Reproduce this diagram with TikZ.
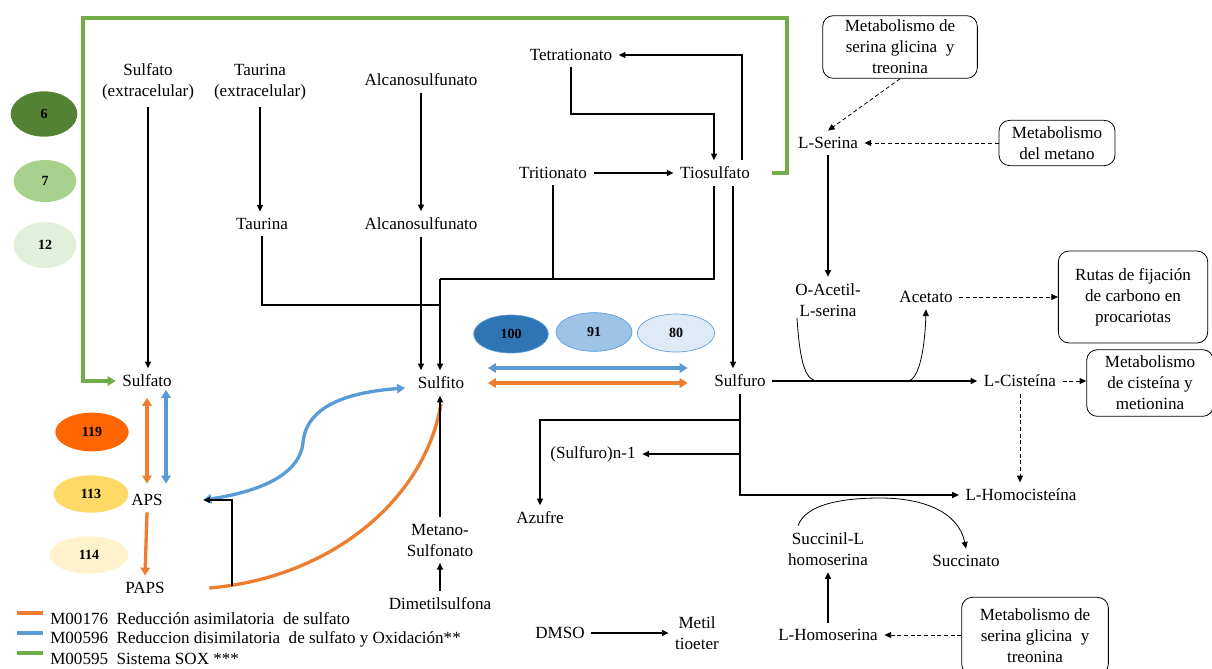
\documentclass[tikz,border=0pt]{standalone}
\usepackage{fontspec}
\setmainfont{Liberation Serif}
\usetikzlibrary{arrows.meta,shapes.geometric,calc}

\definecolor{soxgreen}{HTML}{70AD47}
\definecolor{dsblue}{HTML}{5B9BD5}
\definecolor{asorange}{HTML}{ED7D31}
\definecolor{gA}{HTML}{548235}
\definecolor{gB}{HTML}{A9D18E}
\definecolor{gC}{HTML}{E2EFDA}
\definecolor{oA}{HTML}{FF6600}
\definecolor{oB}{HTML}{FFD966}
\definecolor{oC}{HTML}{FFF2CC}
\definecolor{bA}{HTML}{2E75B6}
\definecolor{bB}{HTML}{9DC3E6}
\definecolor{bC}{HTML}{DEEBF7}

\tikzset{
  txt/.style={align=center, inner sep=2pt, outer sep=3pt},
  conn/.style={line width=1pt, -{Triangle[length=5pt,width=4.5pt]}},
  link/.style={line width=1pt},
  thinconn/.style={line width=0.6pt, -{Triangle[length=5pt,width=4.5pt]}},
  dconn/.style={line width=0.6pt, dash pattern=on 3pt off 2pt, -{Triangle[length=5pt,width=4.5pt]}},
  rbox/.style={draw, rounded corners=8pt, align=center, line width=0.6pt, inner ysep=1pt},
  blob/.style={ellipse, inner sep=0pt, font=\fontsize{10.5}{12}\selectfont\bfseries},
  twoway/.style={line width=2.5pt, {Triangle[length=6pt,width=7pt]}-{Triangle[length=6pt,width=7pt]}},
  oneway/.style={line width=2.5pt, -{Triangle[length=6pt,width=7pt]}},
  sox/.style={soxgreen, line width=3pt, -{Triangle[length=6pt,width=7pt]}},
}

\begin{document}
\begin{tikzpicture}[x=0.75pt,y=0.75pt,yscale=-1,xscale=1,font=\fontsize{12.8}{15.75}\selectfont]
\useasboundingbox (0,0) rectangle (1212,668);

% compounds
\node[txt] (sulfext) at (148,82) {Sulfato\\(extracelular)};
\node[txt] (taurext) at (260,82) {Taurina\\(extracelular)};
\node[txt] (alc1) at (421,80) {Alcanosulfunato};
\node[txt] (taur) at (262,224) {Taurina};
\node[txt] (alc2) at (421,224) {Alcanosulfunato};
\node[txt] (tetr) at (571,55) {Tetrationato};
\node[txt] (trit) at (553,173) {Tritionato};
\node[txt] (tios) at (715,173) {Tiosulfato};
\node[txt] (sulfato) at (147,381) {Sulfato};
\node[txt] (sulfito) at (441,383) {Sulfito};
\node[txt] (sulfuro) at (740,381) {Sulfuro};
\node[txt] (aps) at (147,500) {APS};
\node[txt] (paps) at (145,588) {PAPS};
\node[txt] (metsulf) at (440,540) {Metano-\\Sulfonato};
\node[txt] (dimet) at (440,604) {Dimetilsulfona};
\node[txt] (dmso) at (560,633) {DMSO};
\node[txt] (metil) at (697,633) {Metil\\tioeter};
\node[txt] (sn1) at (593,454) {(Sulfuro)n-1};
\node[txt] (azufre) at (540,518) {Azufre};
\node[txt] (lser) at (828,143) {L-Serina};
\node[txt] (oac) at (828,300) {O-Acetil-\\L-serina};
\node[txt] (acet) at (926,297) {Acetato};
\node[txt] (cist) at (1020,381) {L-Cisteína};
\node[txt] (lhc) at (1021,495) {L-Homocisteína};
\node[txt] (succ) at (828,549) {Succinil-L\\homoserina};
\node[txt] (succto) at (966,561) {Succinato};
\node[txt] (lhs) at (828,635) {L-Homoserina};

% pathway boxes
\node[rbox, minimum width=116pt, minimum height=47pt] (mbox1) at (900,47) {Metabolismo de\\serina glicina~ y\\treonina};
\node[rbox, minimum width=87pt, minimum height=34pt] (mbox2) at (1057,143) {Metabolismo\\del metano};
\node[rbox, minimum width=112pt, minimum height=69pt] (rutas) at (1133,297) {Rutas de fijación\\de carbono en\\procariotas};
\node[rbox, minimum width=95pt, minimum height=50pt] (mbox3) at (1150,383) {Metabolismo\\de cisteína y\\metionina};
\node[rbox, minimum width=110pt, minimum height=58pt] (mbox4) at (1035,636) {Metabolismo de\\serina glicina~ y\\treonina};

% gene counts
\node[blob, fill=gA, minimum width=50pt, minimum height=34pt] (e6) at (44,114) {6};
\node[blob, fill=gB, minimum width=47pt, minimum height=31.5pt] (e7) at (45,181) {7};
\node[blob, fill=gC, minimum width=47pt, minimum height=34.5pt] (e12) at (45,245) {12};
\node[blob, fill=oA, minimum width=55pt, minimum height=29pt] (e119) at (92,432) {119};
\node[blob, fill=oB, minimum width=56pt, minimum height=28pt] (e113) at (91,494) {113};
\node[blob, fill=oC, minimum width=59pt, minimum height=28pt] (e114) at (89,555) {114};
\node[blob, fill=bA, draw=dsblue, line width=0.5pt, minimum width=56pt, minimum height=28.5pt] (e100) at (511,334) {100};
\node[blob, fill=bB, draw=dsblue, line width=0.5pt, minimum width=57pt, minimum height=29pt] (e91) at (594,332) {91};
\node[blob, fill=bC, draw=dsblue, line width=0.5pt, minimum width=58pt, minimum height=28.5pt] (e80) at (676,333) {80};

% junctions
\coordinate (jsf) at (440,279);
\coordinate (jt) at (440,305);
\coordinate (jtt) at (714,114);
\coordinate (jso) at (787,18);
\coordinate (jsi) at (83,381);
\coordinate (jz) at (740,420);
\coordinate (jn) at (740,454);
\coordinate (jp) at (232,586);
\coordinate (ts1) at ($(tios.south)+(-1,0)$);
\coordinate (ts2) at ($(tios.south)+(18,0)$);
\coordinate (tn) at ($(tios.north)+(27,0)$);
\coordinate (te) at ($(tios.east)+(16,0)$);
\coordinate (apsin) at ($(aps.east)+(34,0)$);
\coordinate (papsout) at ($(paps.east)+(38,0)$);
\coordinate (sl) at ($(sulfito.east)+(17,0)$);
\coordinate (sr) at ($(sulfuro.west)+(-20,0)$);

% black reactions
\draw[conn] (sulfext.south) -- (sulfext.south |- sulfato.north);
\draw[conn] (taurext.south) -- (taurext.south |- taur.north);
\draw[conn] (alc1) -- (alc2);
\draw[link] (taur.south) |- (jt);
\draw[conn] (alc2.south) -- (alc2.south |- sulfito.north);
\draw[link] (ts1) |- (jsf);
\draw[link] (trit.south) -- (trit.south |- jsf);
\draw[conn] (jsf) -- (jsf |- sulfito.north);
\draw[conn] (trit) -- (tios);
\draw[conn] (tn) |- (tetr.east);
\draw[conn] (tetr.south) |- (jtt) -- (jtt |- tios.north);
\draw[conn] (ts2) -- (ts2 |- sulfuro.north);
\draw[conn] (sulfuro) -- (cist);
\draw[conn] (sulfuro.south) |- (lhc.west);
\draw[conn] (jz) -| (azufre.north);
\draw[conn] (jn) -- (sn1.east);
\draw[conn] (lser) -- (oac);
\draw[conn] (lhs) -- (succ);
\draw[conn] (dmso) -- (metil);
\draw[conn] (dimet) -- (metsulf);

% side products
\draw[line width=0.6pt] ($(oac.south)+(-31,-5)$) .. controls (800,365) and (806,381) .. (818,381);
\draw[thinconn] (908,381) .. controls (920,379) and (925,345) .. (acet.south);
\draw[thinconn] ($(succ.north)+(-30,0)$) .. controls (805,505) and (840,498) .. (880,498) .. controls (920,498) and (958,510) .. (succto.north);

% links to other pathways
\draw[dconn] (mbox1.south) -- (lser.north);
\draw[dconn] (mbox2) -- (lser);
\draw[dconn] (acet) -- (rutas);
\draw[dconn] (cist.east) -- (cist.east -| mbox3.west);
\draw[dconn] (cist.south) -- (cist.south |- lhc.north);
\draw[dconn] (mbox4.west |- lhs) -- (lhs.east);

% modules
\draw[twoway, asorange, shorten <=3pt, shorten >=3pt] (sulfato.south) -- (aps.north);
\draw[twoway, dsblue, shorten >=3pt] ($(sulfato.south)+(19,-4)$) -- ($(aps.north)+(19,0)$);
\draw[oneway, asorange] (aps.south) -- (paps.north);
\draw[twoway, dsblue] (apsin) .. controls (270,490) and (300,470) .. (303,443) .. controls (306,405) and (350,392) .. ($(sulfito.west)+(-6,5)$);
\draw[line width=2.5pt, asorange] (papsout) .. controls (330,578) and (425,500) .. ($(sulfito.south)+(0,8)$);
\draw[twoway, dsblue] ($(sl)+(0,-15)$) -- ($(sl -| sr)+(0,-15)$);
\draw[twoway, asorange] (sl) -- (sl -| sr);
\draw[sox] (te) -| (jso) -| (jsi) -- (sulfato.west);
\draw[conn] (metsulf.north) -- (metsulf.north |- sulfito.south);
\draw[conn] (jp) |- (apsin);

% legend
\node[anchor=west, inner sep=0pt] (leg1) at (50,619) {M00176~ Reducción asimilatoria~ de sulfato};
\node[anchor=west, inner sep=0pt] (leg2) at (50,639) {M00596~ Reduccion disimilatoria~ de sulfato y Oxidación**};
\node[anchor=west, inner sep=0pt] (leg3) at (50,659) {M00595~ Sistema SOX ***};
\draw[line width=2.5pt, asorange] ($(leg1.west)+(-33,-6)$) -- ++(26,0);
\draw[line width=2.5pt, dsblue] ($(leg2.west)+(-33,-6)$) -- ++(26,0);
\draw[line width=2.5pt, soxgreen] ($(leg3.west)+(-33,-6)$) -- ++(26,0);
\end{tikzpicture}
\end{document}
